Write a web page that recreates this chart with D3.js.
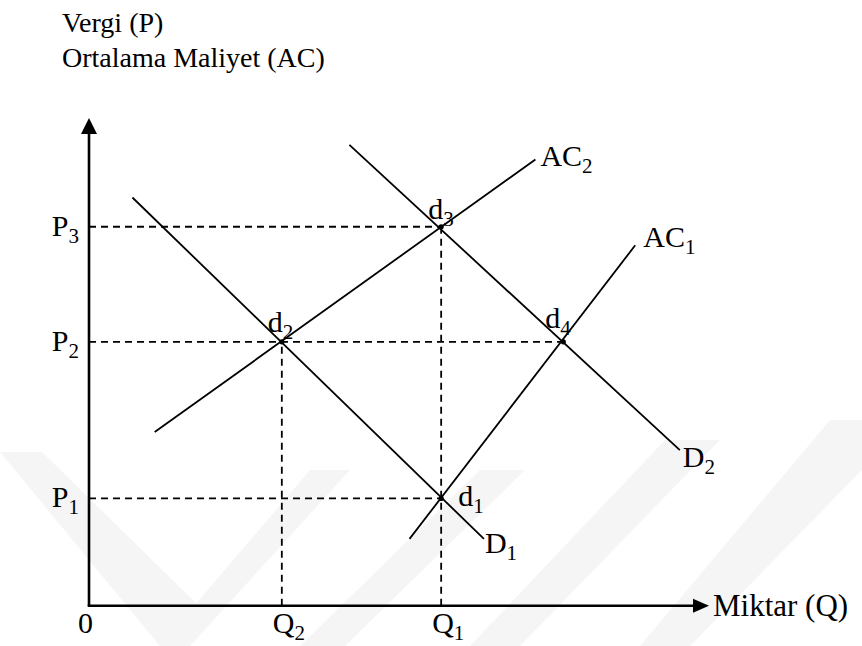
<!DOCTYPE html>
<html lang="tr">
<head>
    <meta charset="UTF-8">
    <title>Vergi - Ortalama Maliyet</title>
    <style>
        body { margin: 0; background: #fff; }
        svg text { font-family: "Liberation Serif", "Times New Roman", serif; fill: #000; }
        .curve { stroke: #000; stroke-width: 1.8; fill: none; }
        .guide { stroke: #000; stroke-width: 1.8; stroke-dasharray: 7,5; fill: none; }
        .axis-line { stroke: #000; stroke-width: 2.6; fill: none; }
    </style>
    <script src="https://cdn.jsdelivr.net/npm/d3@7"></script>
</head>
<body>
<svg width="862" height="646"></svg>
<script>
    // price levels (P1, P2, P3) and quantity levels (Q2, Q1)
    var pLevels = [2.20, 5.41, 7.77];
    var pSubs = ["1", "2", "3"];
    var qLevels = [3.11, 5.68];
    var qSubs = ["2", "1"];

    // curves: name, subscript, start point, end point
    var curveNames = ["D", "AC", "D", "AC"];
    var curveSubs = ["1", "2", "2", "1"];
    var curveQ0 = [0.70, 1.06, 4.20, 5.17];
    var curveP0 = [8.37, 3.56, 9.45, 1.37];
    var curveQ1 = [6.37, 7.20, 9.53, 8.81];
    var curveP1 = [1.37, 9.15, 3.19, 7.39];

    // intersection points d1..d4
    var pointSubs = ["1", "2", "3", "4"];
    var pointQ = [5.68, 3.11, 5.68, 7.65];
    var pointP = [2.20, 5.41, 7.77, 5.41];

    var svg = d3.select("svg");

    var x = d3.scaleLinear().domain([0, 10]).range([89, 709]);
    var y = d3.scaleLinear().domain([0, 10]).range([605.7, 118]);

    // faint watermark bands at the bottom
    var wm = svg.append("g").attr("fill", "#f5f5f5");
    var bands = [
        [[0, 452], [42, 452], [205, 612], [190, 646], [160, 646]],
        [[160, 646], [190, 646], [350, 470], [310, 470]],
        [[300, 646], [345, 646], [525, 470], [480, 470]],
        [[470, 646], [520, 646], [720, 440], [665, 440]],
        [[640, 646], [690, 646], [862, 470], [862, 420], [830, 420]]
    ];
    wm.selectAll("polygon").data(bands).enter().append("polygon")
        .attr("points", function (d) { return d.map(function (p) { return p.join(","); }).join(" "); });

    // dashed guide lines
    var hGuides = [
        { p: pLevels[0], q: pointQ[0] },
        { p: pLevels[1], q: pointQ[3] },
        { p: pLevels[2], q: pointQ[2] }
    ];
    svg.selectAll(".hguide").data(hGuides).enter().append("line")
        .attr("class", "guide hguide")
        .attr("x1", x(0)).attr("x2", function (d) { return x(d.q); })
        .attr("y1", function (d) { return y(d.p); }).attr("y2", function (d) { return y(d.p); });

    var vGuides = [
        { q: qLevels[0], p: pointP[1] },
        { q: qLevels[1], p: pointP[2] }
    ];
    svg.selectAll(".vguide").data(vGuides).enter().append("line")
        .attr("class", "guide vguide")
        .attr("x1", function (d) { return x(d.q); }).attr("x2", function (d) { return x(d.q); })
        .attr("y1", y(0)).attr("y2", function (d) { return y(d.p); });

    // curves
    var curves = curveNames.map(function (n, i) {
        return { name: n, sub: curveSubs[i], q0: curveQ0[i], p0: curveP0[i], q1: curveQ1[i], p1: curveP1[i] };
    });
    svg.selectAll(".curve").data(curves).enter().append("line")
        .attr("class", "curve")
        .attr("x1", function (d) { return x(d.q0); }).attr("y1", function (d) { return y(d.p0); })
        .attr("x2", function (d) { return x(d.q1); }).attr("y2", function (d) { return y(d.p1); });

    // axes with arrow heads
    svg.append("line").attr("class", "axis-line")
        .attr("x1", x(0)).attr("y1", y(0)).attr("x2", x(0)).attr("y2", y(10) + 12);
    svg.append("line").attr("class", "axis-line")
        .attr("x1", x(0) - 1.3).attr("y1", y(0)).attr("x2", x(10) - 12).attr("y2", y(0));
    svg.append("path")
        .attr("d", "M" + x(0) + "," + y(10) + " L" + (x(0) - 8) + "," + (y(10) + 16) + " L" + (x(0) + 8) + "," + (y(10) + 16) + " Z");
    svg.append("path")
        .attr("d", "M" + x(10) + "," + y(0) + " L" + (x(10) - 16) + "," + (y(0) - 7) + " L" + (x(10) - 16) + "," + (y(0) + 7) + " Z");

    // intersection dots
    svg.selectAll(".dot").data(pointQ).enter().append("circle")
        .attr("class", "dot")
        .attr("cx", function (d) { return x(d); })
        .attr("cy", function (d, i) { return y(pointP[i]); })
        .attr("r", 2.6);

    // helper: text with subscript
    function subText(g, base, sub, size, subSize) {
        g.append("tspan").text(base).style("font-size", size + "px");
        g.append("tspan").text(sub).attr("dy", 7).style("font-size", subSize + "px");
    }

    var fs = 30, sfs = 21;

    // P labels
    pLevels.forEach(function (p, i) {
        var t = svg.append("text").attr("x", 79).attr("y", y(p) + 9).attr("text-anchor", "end");
        subText(t, "P", pSubs[i], fs, sfs);
    });

    // Q labels
    qLevels.forEach(function (q, i) {
        var t = svg.append("text").attr("x", x(q) - 9).attr("y", 633);
        subText(t, "Q", qSubs[i], fs, sfs);
    });

    svg.append("text").attr("x", 78).attr("y", 633).style("font-size", fs + "px").text("0");

    // curve labels
    var curveLabelOff = [[1, 14], [5, 7], [3, 17], [8, 2]];
    curves.forEach(function (c, i) {
        var o = curveLabelOff[i];
        var t = svg.append("text").attr("x", x(c.q1) + o[0]).attr("y", y(c.p1) + o[1]);
        subText(t, c.name, c.sub, fs, sfs);
    });

    // point labels
    var pointLabelOff = [[17, 8], [-14, -10], [-13, -8], [-18, -14]];
    pointQ.forEach(function (q, i) {
        var t = svg.append("text").attr("x", x(q) + pointLabelOff[i][0]).attr("y", y(pointP[i]) + pointLabelOff[i][1]);
        subText(t, "d", pointSubs[i], fs, sfs);
    });

    // axis titles
    svg.append("text").attr("x", 62).attr("y", 32).style("font-size", "28px").text("Vergi (P)");
    svg.append("text").attr("x", 62).attr("y", 67).style("font-size", "28px").text("Ortalama Maliyet (AC)");
    svg.append("text").attr("x", x(10) + 4).attr("y", y(0) + 10).style("font-size", "31px").text("Miktar (Q)");
</script>
</body>
</html>
